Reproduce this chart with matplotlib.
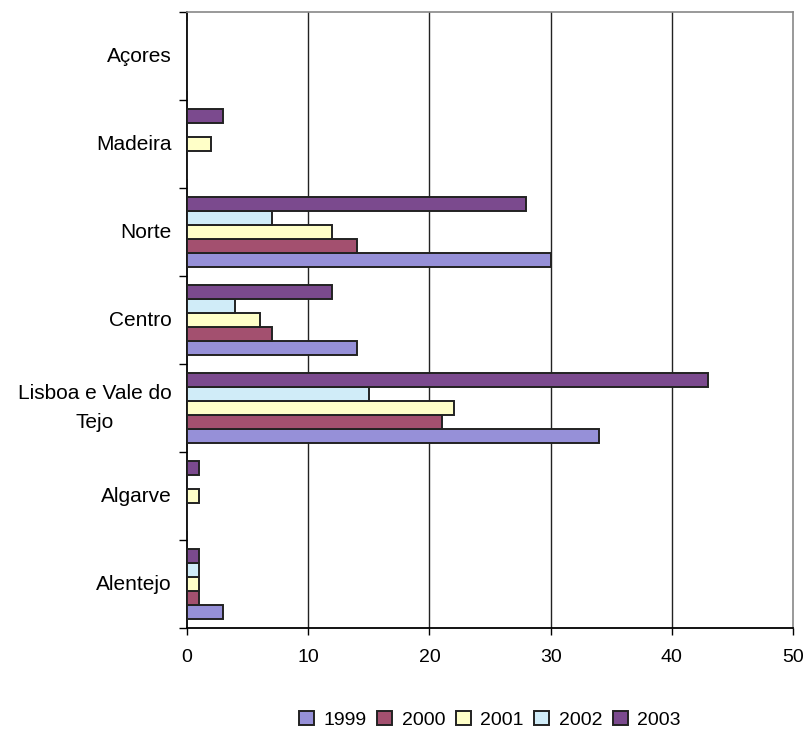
import numpy as np
import matplotlib.pyplot as plt

plt.rcParams['font.family'] = ['Liberation Sans', 'DejaVu Sans']

# regiões (de baixo para cima) e valores por ano
regioes = ['Alentejo', 'Algarve', 'Lisboa e Vale do\nTejo', 'Centro', 'Norte', 'Madeira', 'Açores']
anos = ['1999', '2000', '2001', '2002', '2003']
v1999 = [3, 0, 34, 14, 30, 0, 0]
v2000 = [1, 0, 21, 7, 14, 0, 0]
v2001 = [1, 1, 22, 6, 12, 2, 0]
v2002 = [1, 0, 15, 4, 7, 0, 0]
v2003 = [1, 1, 43, 12, 28, 3, 0]
series = [v1999, v2000, v2001, v2002, v2003]
cores = ['#9690d8', '#a3506f', '#ffffc8', '#d0ecf8', '#7b4a8e']

fig, ax = plt.subplots(figsize=(8.06, 7.32), dpi=100)
fig.subplots_adjust(left=0.232, right=0.984, bottom=0.142, top=0.9836)

y = np.arange(len(regioes))
h = 0.16
for i, (ano, vals) in enumerate(zip(anos, series)):
    off = (i - 2) * h
    ax.barh(y + off, vals, height=h, color=cores[i], edgecolor='#222222',
            linewidth=1.4, label=ano, zorder=3)

ax.set_xlim(0, 50)
ax.set_ylim(-0.5, len(regioes) - 0.5)
ax.set_xticks(range(0, 51, 10))
for xv in range(10, 50, 10):
    ax.axvline(xv, color='#222222', linewidth=1.0, zorder=1)

# etiquetas das categorias, traços nas fronteiras
ax.set_yticks(y)
ax.set_yticklabels(regioes, fontsize=15, ha='right', va='center',
                   multialignment='center', linespacing=1.7)
ax.tick_params(axis='y', length=0, pad=11)
ax.set_yticks(np.arange(-0.5, len(regioes), 1), minor=True)
ax.tick_params(axis='y', which='minor', length=6, width=1)
ax.tick_params(axis='x', labelsize=14, length=5, width=1, pad=10)

for s in ['top', 'right']:
    ax.spines[s].set_color('#888888')
    ax.spines[s].set_linewidth(1.2)
ax.spines['left'].set_linewidth(1.3)
ax.spines['bottom'].set_linewidth(1.3)

ax.legend(loc='center', bbox_to_anchor=(0.5, -0.149), ncol=5, frameon=False,
          fontsize=14, handlelength=0.75, handleheight=0.75, handletextpad=0.5,
          columnspacing=0.55)

plt.savefig('out.png', dpi=100)
